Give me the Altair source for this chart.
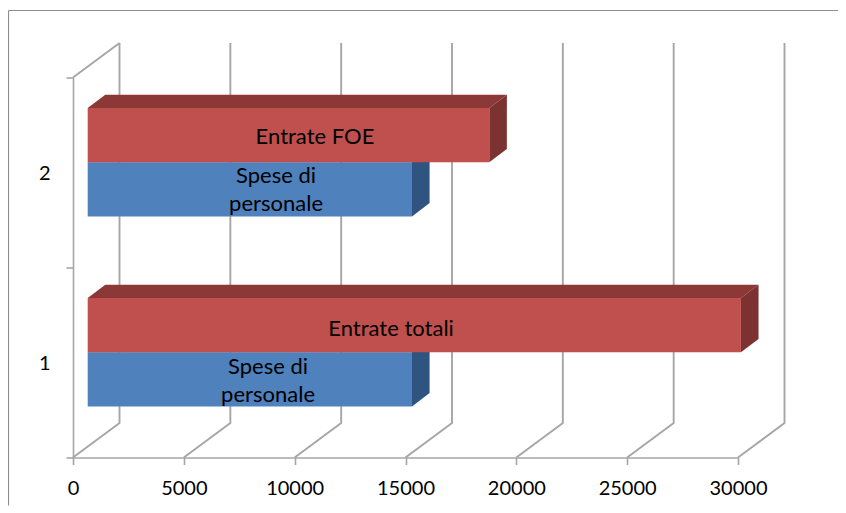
import altair as alt
import pandas as pd

# --- values
categories = [1, 1, 2, 2]
series = ["Spese di personale", "Entrate totali", "Spese di personale", "Entrate FOE"]
values = [14630, 29470, 14630, 18115]
x_ticks = [0, 5000, 10000, 15000, 20000, 25000, 30000]
label_lines = ["Spese di", "personale", "Entrate totali", "Spese di", "personale", "Entrate FOE"]
label_x = [8800, 8800, 14350, 9160, 9160, 10916]
label_y = [0.478, 0.331, 0.678, 1.483, 1.335, 1.688]

# --- chart styling
GRID = "#a6a6a6"
FRAME = "#8f8f8f"
FRONT = {"Spese di personale": "#4F81BD", "Entrate totali": "#C0504D", "Entrate FOE": "#C0504D"}
SIDE = {"Spese di personale": "#2F5480", "Entrate totali": "#7C3230", "Entrate FOE": "#7C3230"}
TOP = {"Spese di personale": "#3A6494", "Entrate totali": "#8C3836", "Entrate FOE": "#8C3836"}
FONT = "Lato"
WALL_DX, WALL_DY = 2098, 0.181      # depth of the floor, in axis units
BAR_DX, BAR_DY = 794, 0.070         # depth of a bar
START = 663                         # bars sit inside the floor: front starts here
BAND = 0.285                        # thickness of one bar
SHIFT = 0.054                       # bars are moved up by their place on the floor

xs = alt.X("x:Q", scale=alt.Scale(domain=[0, 30000]), title=None,
           axis=alt.Axis(values=x_ticks, grid=False, domainColor=GRID, domainWidth=1.6,
                         tickColor=GRID, tickWidth=1.6, tickSize=7, labelPadding=14,
                         labelFlush=False, labelOverlap=False,
                         labelFont=FONT, labelFontSize=20, labelColor="#000000", format="d"))
ys = alt.Y("y:Q", scale=alt.Scale(domain=[0, 2]), title=None,
           axis=alt.Axis(values=[0, 0.5, 1, 1.5, 2], grid=False, domainColor=GRID, domainWidth=1.6,
                         tickColor=GRID, tickWidth=1.6, tickSize=7, labelPadding=16, labelOffset=1,
                         tickOpacity={"condition": {"test": "datum.value % 1 == 0", "value": 1}, "value": 0},
                         labelExpr="datum.value % 1 ? datum.value + 0.5 : ''",
                         labelFlush=False, labelOverlap=False,
                         labelFont=FONT, labelFontSize=20, labelColor="#000000"))

# wall and floor lines
rows = []
for t in x_ticks:
    rows += [dict(g=t, i=0, x=t, y=0),
             dict(g=t, i=1, x=t + WALL_DX, y=WALL_DY),
             dict(g=t, i=2, x=t + WALL_DX, y=2 + WALL_DY)]
rows += [dict(g=-1, i=0, x=0, y=2), dict(g=-1, i=1, x=WALL_DX, y=2 + WALL_DY)]
walls = alt.Chart(pd.DataFrame(rows)).mark_line(color=GRID, strokeWidth=1.9).encode(
    x=xs, y=ys, detail="g:N", order="i:Q")

# bars: a front, a top and a side face for every value
fronts, tops, sides = [], [], []
for k, (c, s, v) in enumerate(zip(categories, series, values)):
    mid = c - 0.5 + SHIFT
    lo, hi = (mid - BAND, mid) if s == "Spese di personale" else (mid, mid + BAND)
    x0, x1 = START, START + v
    fronts.append(dict(k=k, s=s, x=x0, x2=x1, y=lo, y2=hi))
    tops += [dict(k=k, s=s, x=x0, x2=x1, y=hi),
             dict(k=k, s=s, x=x0 + BAR_DX, x2=x1 + BAR_DX, y=hi + BAR_DY)]
    sides += [dict(k=k, s=s, x=x1, y=lo, y2=hi),
              dict(k=k, s=s, x=x1 + BAR_DX, y=lo + BAR_DY, y2=hi + BAR_DY)]

layers = [walls]
for k in range(len(values)):
    top_df = pd.DataFrame([r for r in tops if r["k"] == k])
    side_df = pd.DataFrame([r for r in sides if r["k"] == k])
    front_df = pd.DataFrame([r for r in fronts if r["k"] == k])
    s = series[k]
    layers += [
        alt.Chart(top_df).mark_area(orient="horizontal", color=TOP[s]).encode(x=xs, x2="x2:Q", y=ys),
        alt.Chart(side_df).mark_area(orient="vertical", color=SIDE[s]).encode(x=xs, y=ys, y2="y2:Q"),
        alt.Chart(front_df).mark_rect(color=FRONT[s]).encode(x=xs, x2="x2:Q", y=ys, y2="y2:Q"),
    ]

labels = alt.Chart(pd.DataFrame({"x": label_x, "y": label_y, "t": label_lines})).mark_text(
    font=FONT, fontSize=22, color="#000000").encode(x=xs, y=ys, text="t:N")

frame_top = alt.Chart(pd.DataFrame({"a": [0]})).mark_rule(color=FRAME, strokeWidth=1.2).encode(
    x=alt.value(-64.5), x2=alt.value(765), y=alt.value(-67))
frame_left = alt.Chart(pd.DataFrame({"a": [0]})).mark_rule(color=FRAME, strokeWidth=1.2).encode(
    x=alt.value(-64.5), y=alt.value(-67), y2=alt.value(428))

chart = alt.layer(*layers, labels, frame_top, frame_left).properties(
    width=665, height=380,
    autosize=alt.AutoSizeParams(type="none"),
    padding={"left": 65, "top": 69.5, "right": 100, "bottom": 48},
).configure_view(stroke=None)

chart.save("out.html", embed_options={"renderer": "svg", "actions": False})
